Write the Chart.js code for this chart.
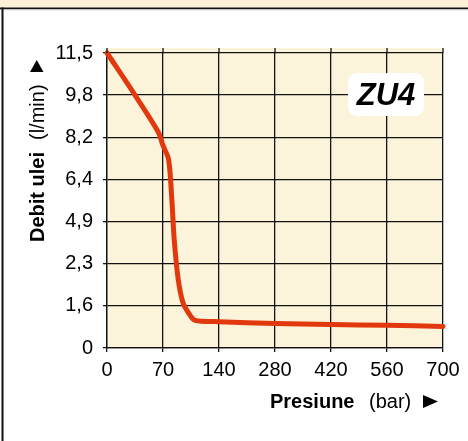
<!DOCTYPE html>
<html>
<head>
<meta charset="utf-8">
<script src="https://cdn.jsdelivr.net/npm/chart.js@4.4.1/dist/chart.umd.min.js"></script>
<style>
  html, body { margin: 0; padding: 0; background: #fff; }
  #wrap { width: 468px; height: 441px; position: relative; }
</style>
</head>
<body>
<div id="wrap"><canvas id="chart"></canvas></div>
<script>
// tick labels (axes are not linear: each label sits on an equally spaced line)
const pressureTicks = [0, 70, 140, 280, 420, 560, 700];
const flowTicks = [0, 1.6, 2.3, 4.9, 6.4, 8.2, 9.8, 11.5];

// ZU4 curve
const pressure = [0, 35, 64, 70, 77, 81, 84, 89, 95, 102, 110, 140, 280, 420, 560, 700];
const flow = [11.5, 9.8, 8.4, 7.85, 7.25, 5.7, 3.8, 2.04, 1.65, 1.33, 1.05, 1.0, 0.93, 0.89, 0.86, 0.82];

const pumpName = 'ZU4';

// linear between the break values, every segment the same length on screen
class BreakScale extends Chart.LinearScale {
  static id = 'breaks';
  static defaults = Chart.LinearScale.defaults;

  toDecimal(v) {
    const b = this.options.breaks;
    const n = b.length - 1;
    for (let i = 1; i <= n; i++) {
      if (v <= b[i] || i === n) {
        return (i - 1 + (v - b[i - 1]) / (b[i] - b[i - 1])) / n;
      }
    }
  }
  getPixelForValue(v) {
    if (v === null || v === undefined) return NaN;
    return this.getPixelForDecimal(this.toDecimal(v));
  }
  getValueForPixel(p) {
    const b = this.options.breaks;
    const n = b.length - 1;
    const d = Math.min(Math.max(this.getDecimalForPixel(p) * n, 0), n);
    const i = Math.min(Math.floor(d), n - 1);
    return b[i] + (d - i) * (b[i + 1] - b[i]);
  }
  buildTicks() {
    return this.options.breaks.map(v => ({ value: v }));
  }
}
Chart.register(BreakScale);

const comma = v => String(v).replace('.', ',');
const FONT = '"Liberation Sans", Arial, sans-serif';

const frame = {
  id: 'frame',
  beforeDraw(chart) {
    const { ctx, chartArea: a } = chart;
    ctx.save();
    ctx.fillStyle = '#fff';
    ctx.fillRect(0, 0, chart.width, chart.height);
    // top strip
    ctx.fillStyle = '#fbf1d6';
    ctx.fillRect(0, 0, chart.width, 7.5);
    ctx.fillStyle = '#111';
    ctx.fillRect(0, 7.5, chart.width, 1.8);
    ctx.fillStyle = '#c8c8c8';
    ctx.fillRect(3, 9.3, chart.width, 1);
    // left border
    ctx.fillStyle = '#111';
    ctx.fillRect(1.5, 7.5, 2, chart.height);
    // plot background
    ctx.fillStyle = '#fcf4da';
    ctx.fillRect(a.left, a.top - 5, a.right - a.left, a.bottom - a.top + 5);
    ctx.restore();
  },
  afterDraw(chart) {
    const { ctx, chartArea: a } = chart;
    const xs = chart.scales.x;
    ctx.save();
    // grid lines run a little above the top line
    ctx.strokeStyle = '#111';
    ctx.lineWidth = 1.3;
    pressureTicks.forEach(v => {
      const x = xs.getPixelForValue(v);
      ctx.beginPath();
      ctx.moveTo(x, a.top - 5);
      ctx.lineTo(x, a.top);
      ctx.stroke();
    });

    // name box
    ctx.fillStyle = '#fff';
    ctx.beginPath();
    ctx.roundRect(348, 73, 76, 43, 9);
    ctx.fill();
    ctx.fillStyle = '#000';
    ctx.font = 'italic bold 31px ' + FONT;
    ctx.textAlign = 'center';
    ctx.textBaseline = 'alphabetic';
    ctx.fillText(pumpName, 386, 105);

    // x title
    ctx.textAlign = 'left';
    ctx.font = 'bold 20px ' + FONT;
    ctx.fillText('Presiune', 270, 408);
    ctx.font = '20px ' + FONT;
    ctx.fillText('(bar)', 369, 408);
    ctx.beginPath();
    ctx.moveTo(423, 395);
    ctx.lineTo(438, 401.5);
    ctx.lineTo(423, 408);
    ctx.closePath();
    ctx.fill();

    // y title
    ctx.translate(44, 0);
    ctx.rotate(-Math.PI / 2);
    ctx.font = 'bold 20px ' + FONT;
    ctx.fillText('Debit ulei', -242, 0);
    ctx.font = '20px ' + FONT;
    ctx.fillText('(l/min)', -140, 0);
    ctx.beginPath();
    ctx.moveTo(-72, -0.5);
    ctx.lineTo(-72, -14);
    ctx.lineTo(-60, -7.25);
    ctx.closePath();
    ctx.fill();
    ctx.restore();
  }
};

new Chart(document.getElementById('chart'), {
  type: 'line',
  data: {
    datasets: [{
      data: pressure.map((p, i) => ({ x: p, y: flow[i] })),
      borderColor: '#e2380e',
      borderWidth: 5,
      pointRadius: 0,
      tension: 0.3,
      borderCapStyle: 'round',
      borderJoinStyle: 'round',
      clip: 8
    }]
  },
  options: {
    responsive: true,
    maintainAspectRatio: false,
    animation: false,
    layout: { padding: { left: 0, top: 53, right: 25, bottom: 0 } },
    plugins: { legend: { display: false }, tooltip: { enabled: false } },
    scales: {
      x: {
        type: 'breaks',
        breaks: pressureTicks,
        min: 0,
        max: 700,
        grid: { color: '#111', lineWidth: 1.3, tickLength: 4 },
        border: { color: '#111', width: 1.3 },
        ticks: {
          color: '#000',
          font: { family: FONT, size: 20 },
          padding: 6,
          maxRotation: 0,
          autoSkip: false,
          callback: comma
        },
        afterFit: s => { s.height = 93; }
      },
      y: {
        type: 'breaks',
        breaks: flowTicks,
        min: 0,
        max: 11.5,
        grid: { color: '#111', lineWidth: 1.3, tickLength: 4 },
        border: { color: '#111', width: 1.3 },
        ticks: {
          color: '#000',
          font: { family: FONT, size: 20 },
          padding: 10,
          autoSkip: false,
          callback: comma
        },
        afterFit: s => { s.width = 107; }
      }
    }
  },
  plugins: [frame]
});
</script>
</body>
</html>
